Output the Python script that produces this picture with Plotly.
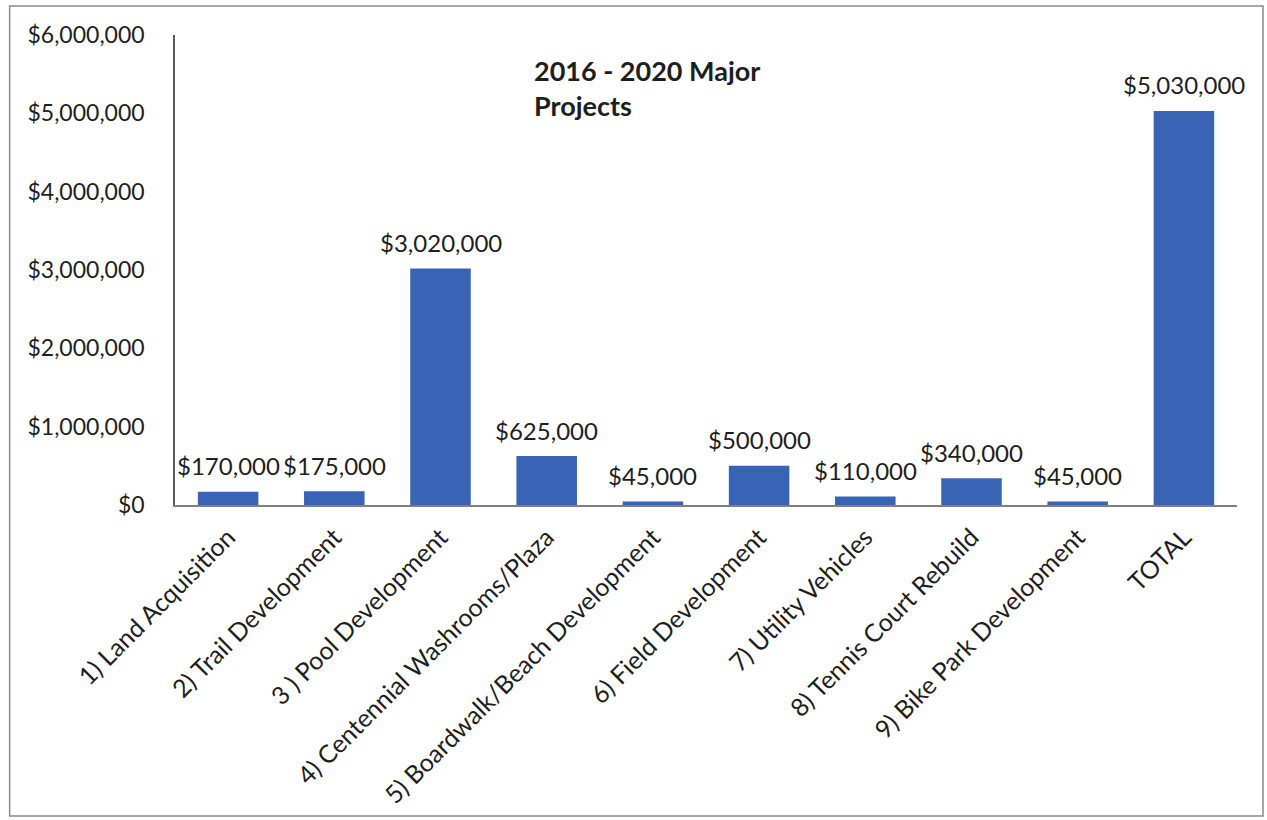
import plotly.graph_objects as go

# Project budget, 2016-2020
categories = [
    "1) Land Acquisition",
    "2) Trail Development",
    "3 ) Pool Development",
    "4) Centennial Washrooms/Plaza",
    "5) Boardwalk/Beach Development",
    "6) Field Development",
    "7) Utility Vehicles",
    "8) Tennis Court Rebuild",
    "9) Bike Park Development",
    "TOTAL",
]
values = [170000, 175000, 3020000, 625000, 45000, 500000, 110000, 340000, 45000, 5030000]

y_tick_values = [0, 1000000, 2000000, 3000000, 4000000, 5000000, 6000000]
y_tick_labels = ["$0", "$1,000,000", "$2,000,000", "$3,000,000",
                 "$4,000,000", "$5,000,000", "$6,000,000"]

FONT = "Lato, Carlito, Calibri, sans-serif"
BAR_COLOR = "#3963b5"
TEXT_COLOR = "#1e1e1e"

fig = go.Figure()
fig.add_trace(go.Bar(
    x=categories,
    y=values,
    marker=dict(color=BAR_COLOR, line=dict(width=0)),
    width=0.57,
    hoverinfo="x+y",
))

# Value labels above each bar
for cat, val in zip(categories, values):
    fig.add_annotation(
        x=cat, y=val, text=f"${val:,.0f}",
        showarrow=False, yanchor="middle", yshift=26,
        font=dict(family=FONT, size=24, color=TEXT_COLOR),
    )

# Chart title inside the plot area
fig.add_annotation(
    xref="paper", yref="paper", x=0.336, y=0.887,
    xanchor="left", yanchor="middle", align="left",
    text="<b>2016 - 2020 Major<br>Projects</b>",
    showarrow=False,
    font=dict(family=FONT, size=27, color=TEXT_COLOR),
)

# Outer frame around the whole chart
fig.add_shape(
    type="rect", xref="paper", yref="paper",
    x0=-0.1557, x1=1.0245, y0=-0.6617, y1=1.0617,
    line=dict(color="#8a8a8a", width=1.5), fillcolor="rgba(0,0,0,0)",
    layer="below",
)

fig.update_layout(
    width=1267, height=820,
    margin=dict(l=175, r=30, t=35, b=315),
    paper_bgcolor="white", plot_bgcolor="white",
    showlegend=False,
    font=dict(family=FONT, size=20, color=TEXT_COLOR),
    xaxis=dict(
        range=[-0.5, 9.5], automargin=False,
        tickangle=-45,
        showline=True, linecolor="#7f7f7f", linewidth=1.5,
        showgrid=False, ticks="",
        ticklabelstandoff=6,
        tickfont=dict(family=FONT, size=25, color=TEXT_COLOR),
    ),
    yaxis=dict(
        range=[0, 6000000], automargin=False,
        tickvals=y_tick_values, ticktext=y_tick_labels,
        showline=True, linecolor="#5a5a5a", linewidth=1.5,
        showgrid=False, zeroline=False, ticks="",
        ticklabelstandoff=24,
        tickfont=dict(family=FONT, size=23, color=TEXT_COLOR),
    ),
)

fig.write_html("out.html")
